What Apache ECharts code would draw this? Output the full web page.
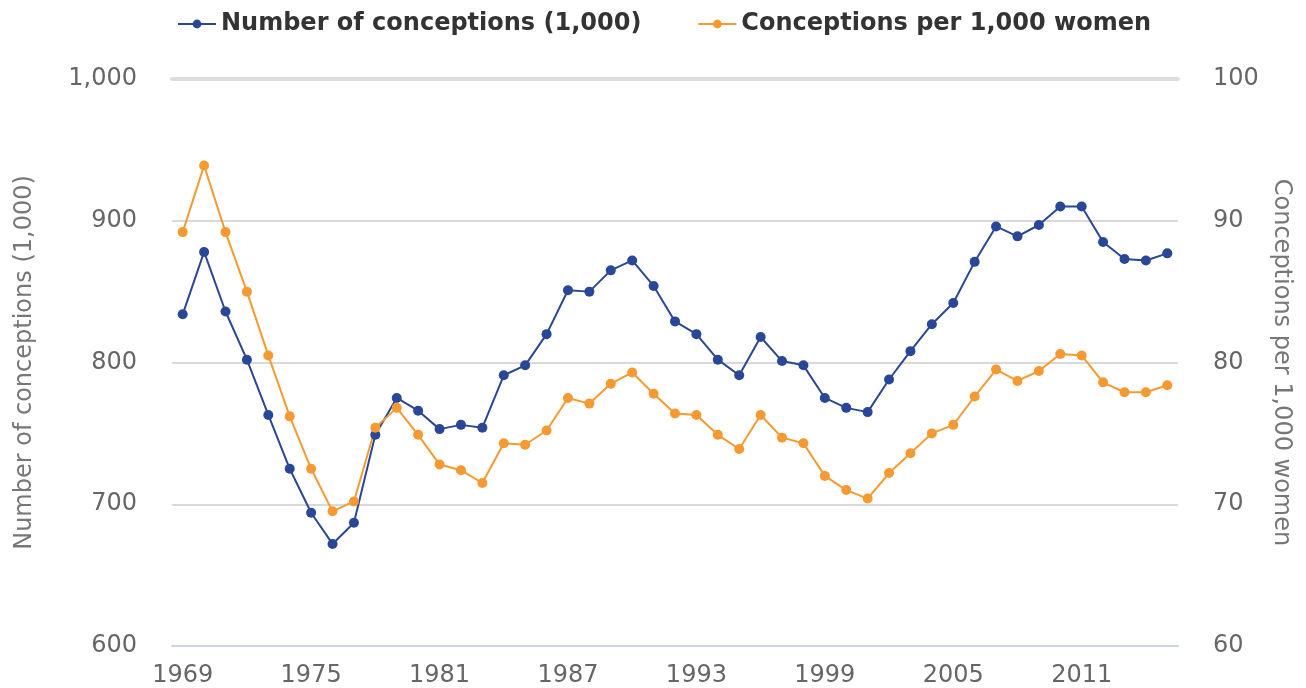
<!DOCTYPE html>
<html>
<head>
<meta charset="utf-8">
<script src="https://cdn.jsdelivr.net/npm/echarts@6/dist/echarts.min.js"></script>
<style>html,body{margin:0;padding:0;background:#fff;}#c{width:1306px;height:688px;}</style>
</head>
<body>
<div id="c"></div>
<script>
const years = [];
for (let y = 1969; y <= 2015; y++) years.push(String(y));

const conceptions = [834, 878, 836, 802, 763, 725, 694, 672, 687, 749,
  775, 766, 753, 756, 754, 791, 798, 820, 851, 850,
  865, 872, 854, 829, 820, 802, 791, 818, 801, 798,
  775, 768, 765, 788, 808, 827, 842, 871, 896, 889,
  897, 910, 910, 885, 873, 872, 877];

const ratePer1000 = [89.2, 93.9, 89.2, 85.0, 80.5, 76.2, 72.5, 69.5, 70.2, 75.4,
  76.8, 74.9, 72.8, 72.4, 71.5, 74.3, 74.2, 75.2, 77.5, 77.1,
  78.5, 79.3, 77.8, 76.4, 76.3, 74.9, 73.9, 76.3, 74.7, 74.3,
  72.0, 71.0, 70.4, 72.2, 73.6, 75.0, 75.6, 77.6, 79.5, 78.7,
  79.4, 80.6, 80.5, 78.6, 77.9, 77.9, 78.4];

const leftTicks = {min: 600, max: 1000, interval: 100};
const rightTicks = {min: 60, max: 100, interval: 10};

const FONT = 'DejaVu Sans';
const chart = echarts.init(document.getElementById('c'));
chart.setOption({
  animation: false,
  backgroundColor: '#fff',
  color: ['#2a4797', '#f59a32'],
  legend: {
    top: 7,
    left: 172,
    itemWidth: 38,
    itemHeight: 11,
    itemGap: 56,
    textStyle: {fontFamily: FONT, fontSize: 24, fontWeight: 'bold', color: '#333'},
    data: ['Number of conceptions (1,000)', 'Conceptions per 1,000 women']
  },
  grid: {left: 172, right: 128, top: 79, bottom: 41, containLabel: false},
  xAxis: [{
    type: 'category',
    data: years,
    boundaryGap: true,
    axisLine: {lineStyle: {color: '#c8d6e5', width: 2}},
    axisTick: {alignWithLabel: true, interval: 5, length: 16, lineStyle: {color: '#c8d6e5', width: 2}},
    axisLabel: {interval: 5, margin: 18, fontFamily: FONT, fontSize: 24, color: '#666'},
    splitLine: {show: false}
  }, {
    type: 'category',
    data: years,
    position: 'top',
    boundaryGap: true,
    axisLine: {show: true, lineStyle: {color: '#dcdcdc', width: 4}},
    axisTick: {show: false},
    axisLabel: {show: false},
    splitLine: {show: false}
  }],
  yAxis: [{
    type: 'value',
    min: leftTicks.min, max: leftTicks.max, interval: leftTicks.interval,
    name: 'Number of conceptions (1,000)',
    nameLocation: 'middle',
    nameGap: 135,
    nameTextStyle: {fontFamily: FONT, fontSize: 24, color: '#777'},
    axisLine: {show: false},
    axisTick: {show: false},
    axisLabel: {margin: 35, fontFamily: FONT, fontSize: 24, color: '#666'},
    splitLine: {lineStyle: {color: '#d9d9d9', width: 2}}
  }, {
    type: 'value',
    position: 'right',
    min: rightTicks.min, max: rightTicks.max, interval: rightTicks.interval,
    name: 'Conceptions per 1,000 women',
    nameLocation: 'middle',
    nameRotate: -90,
    nameGap: 91,
    nameTextStyle: {fontFamily: FONT, fontSize: 24, color: '#777'},
    axisLine: {show: false},
    axisTick: {show: false},
    axisLabel: {margin: 35, fontFamily: FONT, fontSize: 24, color: '#666'},
    splitLine: {show: false}
  }],
  series: [{
    name: 'Number of conceptions (1,000)',
    type: 'line',
    yAxisIndex: 0,
    data: conceptions,
    symbol: 'circle',
    symbolSize: 10,
    lineStyle: {width: 2},
    itemStyle: {color: '#2a4797'}
  }, {
    name: 'Conceptions per 1,000 women',
    type: 'line',
    yAxisIndex: 1,
    data: ratePer1000,
    symbol: 'circle',
    symbolSize: 10,
    lineStyle: {width: 2},
    itemStyle: {color: '#f59a32'}
  }]
});
</script>
</body>
</html>
